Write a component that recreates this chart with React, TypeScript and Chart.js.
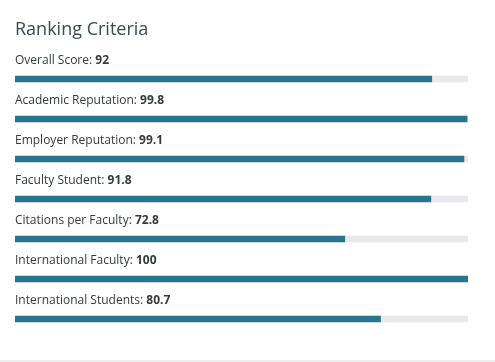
import React, { useEffect, useRef } from "react";
import { Chart, registerables } from "chart.js";

Chart.register(...registerables);

const titleText = "Ranking Criteria";
const categories = [
  "Overall Score",
  "Academic Reputation",
  "Employer Reputation",
  "Faculty Student",
  "Citations per Faculty",
  "International Faculty",
  "International Students",
];
const scores = [92, 99.8, 99.1, 91.8, 72.8, 100, 80.7];
const trackMax = [100, 100, 100, 100, 100, 100, 100];

const FONT = "'Open Sans', sans-serif";

const labelPlugin = {
  id: "labelPlugin",
  afterDatasetsDraw(chart: any) {
    const ctx = chart.ctx;
    const meta = chart.getDatasetMeta(1);
    const left = chart.chartArea.left;
    ctx.save();
    ctx.textBaseline = "alphabetic";
    ctx.fillStyle = "#333a3d";
    ctx.font = `400 18px ${FONT}`;
    ctx.fillStyle = "#3b4a50";
    ctx.fillText(titleText, left, 35);
    meta.data.forEach((bar: any, i: number) => {
      const y = bar.y - 15;
      const lbl = categories[i] + ": ";
      ctx.font = `400 12px ${FONT}`;
      ctx.fillStyle = "#333a3d";
      ctx.fillText(lbl, left, y);
      const w = ctx.measureText(lbl).width;
      ctx.font = `700 12px ${FONT}`;
      ctx.fillText(String(scores[i]), left + w, y);
    });
    ctx.restore();
  },
};

export default function App() {
  const ref = useRef<HTMLCanvasElement>(null);
  useEffect(() => {
    const chart = new Chart(ref.current!, {
      type: "bar",
      data: {
        labels: categories,
        datasets: [
          {
            data: trackMax,
            backgroundColor: "#e9e9ed",
            barThickness: 6,
            grouped: false,
            order: 2,
          } as any,
          {
            data: scores,
            backgroundColor: "#2c7591",
            barThickness: 6,
            grouped: false,
            order: 1,
          } as any,
        ],
      },
      options: {
        indexAxis: "y",
        animation: false,
        responsive: false,
        maintainAspectRatio: false,
        layout: { padding: { top: 59, bottom: 23, left: 15, right: 27 } },
        plugins: {
          legend: { display: false },
          tooltip: { enabled: false },
          title: { display: false },
        },
        scales: {
          x: { display: false, min: 0, max: 100 },
          y: { display: false },
        },
      },
      plugins: [labelPlugin],
    });
    return () => chart.destroy();
  }, []);
  return (
    <div style={{ position: "absolute", left: 0, top: 0, width: 495, height: 362, background: "#fff" }}>
      <canvas ref={ref} width={495} height={362} style={{ width: 495, height: 362, display: "block" }} />
      <div style={{ position: "absolute", left: 0, top: 360, width: 495, height: 2, background: "#eeeeee" }} />
    </div>
  );
}
